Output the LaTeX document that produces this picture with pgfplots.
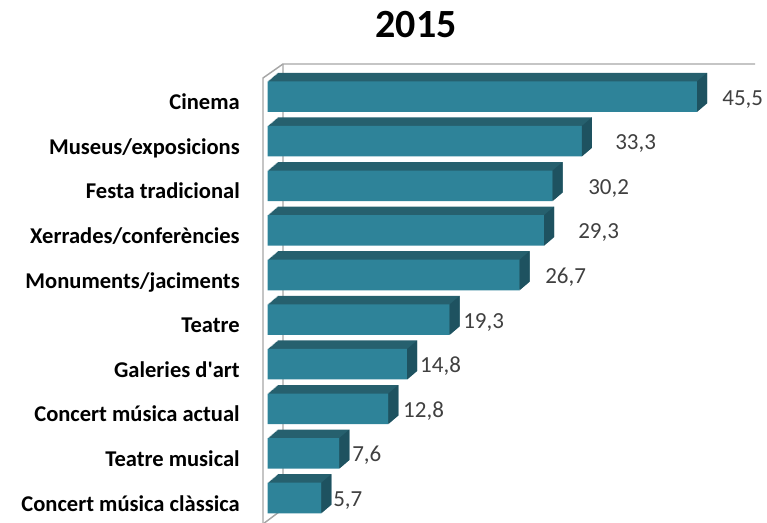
\documentclass[border=0pt]{standalone}
\usepackage{pgfplots}
\pgfplotsset{compat=1.18}
\usepackage{pgfplotstable}
\usepackage{fontspec}
\setmainfont{Carlito}

\definecolor{barfront}{RGB}{46,131,153}
\definecolor{bartop}{RGB}{38,96,110}
\definecolor{barside}{RGB}{30,82,96}
\definecolor{wall}{RGB}{166,166,166}
\definecolor{valtxt}{RGB}{64,64,64}

% side face of a bar, drawn at the bar's end
\pgfdeclareplotmark{sideface}{%
  \pgfpathmoveto{\pgfpoint{0pt}{-11.45pt}}%
  \pgfpathlineto{\pgfpoint{7.5pt}{-5.05pt}}%
  \pgfpathlineto{\pgfpoint{7.5pt}{17.85pt}}%
  \pgfpathlineto{\pgfpoint{0pt}{11.45pt}}%
  \pgfpathclose
  \pgfusepathqfill}

% idx 0 = bottom bar
\pgfplotstableread{
idx val lx lab
9 45.5 48.15 45,5
8 33.3 36.81 33,3
7 30.2 33.95 30,2
6 29.3 32.89 29,3
5 26.7 29.40 26,7
4 19.3 20.71 19,3
3 14.8 16.15 14,8
2 12.8 14.35 12,8
1 7.6 8.95 7,6
0 5.7 6.94 5,7
}\datos

\begin{document}
\begin{tikzpicture}
\begin{scope}[x=0.75pt,y=0.75pt]
  \useasboundingbox (0,0) rectangle (767,522);
  % walls
  \draw[wall, line width=1.1pt] (263,-2) -- (263,444) -- (283,458) -- (755,458);
  \draw[wall, line width=1.1pt] (283,458) -- (283,13) -- (263,-2);
  \node[anchor=base, font=\bfseries\fontsize{30}{36}\selectfont] at (416,484) {2015};
\end{scope}

\begin{axis}[
    at={(197.25pt,0pt)}, anchor=south west,
    scale only axis, width=370.5pt, height=343.5pt,
    xmin=-0.477, xmax=51.85, ymin=-0.538, ymax=9.731,
    axis lines*=left, axis line style={draw=none},
    xtick=\empty, ytick={0,...,9},
    yticklabels={Concert música clàssica, Teatre musical, Concert música actual,
      Galeries d\textquotesingle art, Teatre, Monuments/jaciments, Xerrades/conferències,
      Festa tradicional, Museus/exposicions, Cinema},
    major tick length=0pt,
    yticklabel style={anchor=base east, inner sep=0pt, xshift=-17.25pt, yshift=-9.75pt,
      font=\bfseries\fontsize{16.9}{20}\selectfont, text=black},
    clip=false,
]

% depth of the bars (top face)
\pgfplotsinvokeforeach{10,9,...,1}{
  \addplot[xbar, bar shift=0pt, bar width=22.9pt, fill=bartop, draw=none,
    xshift=#1*0.75pt, yshift=#1*0.64pt, forget plot] table[x=val, y=idx] {\datos};
}

% side faces
\addplot[only marks, mark=sideface, mark options={fill=barside, draw=none}]
  table[x=val, y=idx] {\datos};

% front faces
\addplot[xbar, bar shift=0pt, bar width=22.9pt, fill=barfront, draw=none]
  table[x=val, y=idx] {\datos};

% value labels
\addplot[draw=none, mark=none, nodes near coords, point meta=explicit symbolic,
  every node near coord/.append style={anchor=base west, inner sep=0pt, yshift=-6.4pt,
    font=\fontsize{17.25}{20}\selectfont, text=valtxt}]
  table[x=lx, y=idx, meta=lab] {\datos};

\end{axis}
\end{tikzpicture}
\end{document}
